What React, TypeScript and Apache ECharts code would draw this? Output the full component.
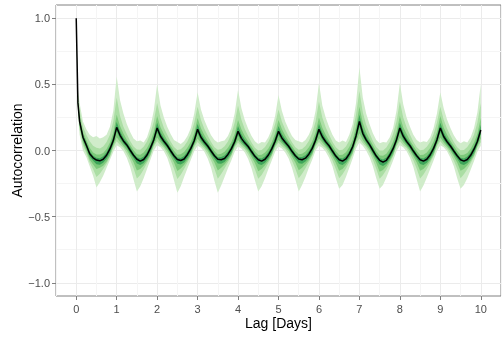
import React, { useEffect, useRef } from "react";
import * as echarts from "echarts";

// x positions: hours within each day row (day 0 has an extra 1-hour point)
const HOURS_DAY0 = [0, 1, 2, 4, 6, 8, 10, 12, 14, 16, 18, 20, 22];
const HOURS_DAYN = [0, 2, 4, 6, 8, 10, 12, 14, 16, 18, 20, 22];

const X_TICKS = [0, 1, 2, 3, 4, 5, 6, 7, 8, 9, 10];
const X_MINOR = [-0.5, 0.5, 1.5, 2.5, 3.5, 4.5, 5.5, 6.5, 7.5, 8.5, 9.5, 10.5];
const Y_TICKS = [-1, -0.5, 0, 0.5, 1];
const Y_MINOR = [-0.75, -0.25, 0.25, 0.75];

// median autocorrelation, one row per day
const MEDIAN = [
  [1.0, 0.36, 0.22, 0.1, 0.04, -0.025, -0.055, -0.072, -0.078, -0.066, -0.036, 0.012, 0.075],
  [0.175, 0.115, 0.072, 0.042, 0.002, -0.036, -0.066, -0.08, -0.068, -0.034, 0.018, 0.08],
  [0.17, 0.108, 0.07, 0.038, -0.002, -0.04, -0.068, -0.076, -0.064, -0.03, 0.016, 0.074],
  [0.16, 0.1, 0.064, 0.034, -0.004, -0.04, -0.066, -0.07, -0.06, -0.03, 0.012, 0.066],
  [0.145, 0.092, 0.058, 0.03, -0.008, -0.044, -0.07, -0.08, -0.066, -0.034, 0.012, 0.07],
  [0.145, 0.095, 0.062, 0.032, -0.006, -0.04, -0.064, -0.07, -0.058, -0.028, 0.016, 0.078],
  [0.16, 0.104, 0.066, 0.036, -0.004, -0.042, -0.07, -0.08, -0.064, -0.026, 0.028, 0.11],
  [0.22, 0.13, 0.08, 0.044, 0.0, -0.042, -0.074, -0.088, -0.074, -0.036, 0.014, 0.08],
  [0.17, 0.108, 0.068, 0.036, -0.004, -0.04, -0.07, -0.08, -0.066, -0.032, 0.016, 0.08],
  [0.17, 0.106, 0.066, 0.034, -0.004, -0.04, -0.07, -0.08, -0.068, -0.036, 0.01, 0.068],
  [0.155],
];

// innermost band
const U4 = [
  [1.0, 0.375, 0.24, 0.12, 0.06, -0.005, -0.04, -0.055, -0.058, -0.044, -0.014, 0.035, 0.105],
  [0.215, 0.145, 0.097, 0.062, 0.022, -0.02, -0.051, -0.06, -0.046, -0.012, 0.04, 0.11],
  [0.21, 0.138, 0.095, 0.058, 0.018, -0.024, -0.053, -0.056, -0.042, -0.008, 0.038, 0.104],
  [0.2, 0.13, 0.089, 0.054, 0.016, -0.024, -0.051, -0.05, -0.038, -0.008, 0.034, 0.096],
  [0.185, 0.122, 0.083, 0.05, 0.012, -0.028, -0.055, -0.06, -0.044, -0.012, 0.034, 0.1],
  [0.185, 0.125, 0.087, 0.052, 0.014, -0.024, -0.049, -0.05, -0.036, -0.006, 0.038, 0.108],
  [0.2, 0.134, 0.091, 0.056, 0.016, -0.026, -0.055, -0.06, -0.042, -0.004, 0.05, 0.145],
  [0.27, 0.165, 0.105, 0.064, 0.02, -0.026, -0.059, -0.068, -0.052, -0.014, 0.036, 0.11],
  [0.21, 0.138, 0.093, 0.056, 0.016, -0.024, -0.055, -0.06, -0.044, -0.01, 0.038, 0.11],
  [0.21, 0.136, 0.091, 0.054, 0.016, -0.024, -0.055, -0.06, -0.046, -0.014, 0.032, 0.098],
  [0.195],
];
const L4 = [
  [1.0, 0.345, 0.2, 0.08, 0.02, -0.048, -0.078, -0.104, -0.108, -0.092, -0.062, -0.018, 0.053],
  [0.145, 0.09, 0.052, 0.022, -0.02, -0.059, -0.098, -0.11, -0.094, -0.06, -0.012, 0.058],
  [0.14, 0.083, 0.05, 0.018, -0.024, -0.063, -0.1, -0.106, -0.09, -0.056, -0.014, 0.052],
  [0.13, 0.075, 0.044, 0.014, -0.026, -0.063, -0.098, -0.1, -0.086, -0.056, -0.018, 0.044],
  [0.115, 0.067, 0.038, 0.01, -0.03, -0.067, -0.102, -0.11, -0.092, -0.06, -0.018, 0.048],
  [0.115, 0.07, 0.042, 0.012, -0.028, -0.063, -0.096, -0.1, -0.084, -0.054, -0.014, 0.056],
  [0.13, 0.079, 0.046, 0.016, -0.026, -0.065, -0.102, -0.11, -0.09, -0.052, -0.002, 0.085],
  [0.18, 0.105, 0.06, 0.024, -0.022, -0.065, -0.106, -0.118, -0.1, -0.062, -0.016, 0.058],
  [0.14, 0.083, 0.048, 0.016, -0.026, -0.063, -0.102, -0.11, -0.092, -0.058, -0.014, 0.058],
  [0.14, 0.081, 0.046, 0.014, -0.026, -0.063, -0.102, -0.11, -0.094, -0.062, -0.02, 0.046],
  [0.125],
];

const U3 = [
  [1.0, 0.39, 0.26, 0.14, 0.08, 0.02, -0.015, -0.03, -0.03, -0.018, 0.012, 0.06, 0.135],
  [0.27, 0.185, 0.128, 0.082, 0.042, 0.002, -0.028, -0.032, -0.016, 0.018, 0.068, 0.14],
  [0.26, 0.176, 0.124, 0.078, 0.038, -0.002, -0.032, -0.028, -0.012, 0.022, 0.066, 0.132],
  [0.245, 0.168, 0.118, 0.074, 0.036, -0.004, -0.03, -0.024, -0.01, 0.02, 0.062, 0.124],
  [0.23, 0.16, 0.11, 0.07, 0.032, -0.008, -0.034, -0.032, -0.016, 0.016, 0.062, 0.128],
  [0.23, 0.162, 0.114, 0.072, 0.034, -0.004, -0.028, -0.024, -0.008, 0.024, 0.068, 0.138],
  [0.25, 0.172, 0.12, 0.076, 0.036, -0.006, -0.034, -0.032, -0.014, 0.026, 0.082, 0.18],
  [0.33, 0.21, 0.138, 0.086, 0.042, -0.006, -0.038, -0.04, -0.024, 0.014, 0.066, 0.14],
  [0.26, 0.176, 0.124, 0.076, 0.036, -0.004, -0.034, -0.032, -0.016, 0.018, 0.068, 0.14],
  [0.26, 0.174, 0.12, 0.074, 0.036, -0.004, -0.034, -0.032, -0.018, 0.014, 0.06, 0.126],
  [0.245],
];
const L3 = [
  [1.0, 0.33, 0.18, 0.06, 0.0, -0.07, -0.105, -0.14, -0.13, -0.115, -0.085, -0.04, 0.035],
  [0.1, 0.066, 0.034, 0.004, -0.042, -0.088, -0.152, -0.14, -0.114, -0.078, -0.032, 0.044],
  [0.098, 0.062, 0.032, 0.0, -0.044, -0.09, -0.155, -0.136, -0.11, -0.074, -0.032, 0.04],
  [0.09, 0.056, 0.028, -0.002, -0.046, -0.09, -0.152, -0.13, -0.106, -0.074, -0.034, 0.034],
  [0.08, 0.05, 0.024, -0.006, -0.05, -0.094, -0.156, -0.14, -0.112, -0.078, -0.034, 0.036],
  [0.08, 0.052, 0.026, -0.004, -0.048, -0.09, -0.15, -0.13, -0.104, -0.072, -0.03, 0.044],
  [0.09, 0.06, 0.03, 0.0, -0.046, -0.092, -0.154, -0.14, -0.11, -0.07, -0.018, 0.07],
  [0.13, 0.08, 0.042, 0.008, -0.04, -0.092, -0.16, -0.148, -0.12, -0.08, -0.034, 0.044],
  [0.098, 0.062, 0.032, 0.0, -0.044, -0.09, -0.154, -0.14, -0.112, -0.076, -0.032, 0.044],
  [0.098, 0.06, 0.03, -0.002, -0.044, -0.09, -0.154, -0.14, -0.114, -0.08, -0.038, 0.034],
  [0.09],
];

const U2 = [
  [1.0, 0.42, 0.3, 0.18, 0.12, 0.07, 0.035, 0.02, 0.015, 0.03, 0.065, 0.12, 0.22],
  [0.4, 0.26, 0.18, 0.124, 0.072, 0.03, 0.008, 0.006, 0.028, 0.068, 0.13, 0.22],
  [0.36, 0.245, 0.172, 0.12, 0.068, 0.026, 0.004, 0.01, 0.032, 0.07, 0.126, 0.21],
  [0.33, 0.23, 0.165, 0.114, 0.064, 0.024, 0.006, 0.012, 0.032, 0.068, 0.124, 0.21],
  [0.34, 0.232, 0.162, 0.11, 0.06, 0.02, 0.0, 0.004, 0.026, 0.066, 0.122, 0.2],
  [0.31, 0.22, 0.158, 0.108, 0.062, 0.024, 0.006, 0.012, 0.034, 0.072, 0.132, 0.22],
  [0.37, 0.25, 0.175, 0.12, 0.066, 0.024, 0.002, 0.006, 0.03, 0.076, 0.15, 0.27],
  [0.45, 0.29, 0.195, 0.13, 0.072, 0.026, 0.0, 0.0, 0.022, 0.064, 0.126, 0.22],
  [0.37, 0.25, 0.176, 0.12, 0.066, 0.024, 0.002, 0.006, 0.028, 0.066, 0.124, 0.21],
  [0.33, 0.232, 0.166, 0.114, 0.064, 0.024, 0.002, 0.004, 0.026, 0.064, 0.12, 0.21],
  [0.36],
];
const L2 = [
  [1.0, 0.31, 0.16, 0.04, -0.02, -0.09, -0.14, -0.2, -0.175, -0.14, -0.1, -0.05, 0.02],
  [0.07, 0.042, 0.02, -0.022, -0.072, -0.135, -0.212, -0.186, -0.144, -0.094, -0.042, 0.03],
  [0.07, 0.04, 0.018, -0.024, -0.074, -0.138, -0.216, -0.184, -0.14, -0.09, -0.042, 0.026],
  [0.064, 0.036, 0.014, -0.026, -0.076, -0.138, -0.214, -0.178, -0.136, -0.09, -0.044, 0.022],
  [0.058, 0.03, 0.01, -0.03, -0.08, -0.142, -0.214, -0.186, -0.142, -0.094, -0.044, 0.024],
  [0.058, 0.032, 0.012, -0.028, -0.078, -0.138, -0.21, -0.176, -0.134, -0.088, -0.04, 0.03],
  [0.064, 0.038, 0.016, -0.024, -0.076, -0.14, -0.21, -0.18, -0.138, -0.086, -0.03, 0.05],
  [0.09, 0.054, 0.026, -0.016, -0.07, -0.138, -0.214, -0.186, -0.146, -0.096, -0.044, 0.03],
  [0.07, 0.04, 0.018, -0.024, -0.074, -0.138, -0.212, -0.182, -0.14, -0.092, -0.042, 0.03],
  [0.07, 0.04, 0.016, -0.026, -0.076, -0.138, -0.21, -0.18, -0.142, -0.096, -0.048, 0.022],
  [0.062],
];

// outermost band
const U1 = [
  [1.0, 0.46, 0.36, 0.22, 0.16, 0.12, 0.1, 0.11, 0.09, 0.1, 0.12, 0.18, 0.3],
  [0.56, 0.38, 0.28, 0.2, 0.14, 0.09, 0.07, 0.075, 0.06, 0.1, 0.18, 0.3],
  [0.5, 0.34, 0.25, 0.18, 0.125, 0.08, 0.065, 0.05, 0.07, 0.11, 0.17, 0.28],
  [0.44, 0.31, 0.23, 0.17, 0.115, 0.08, 0.06, 0.07, 0.075, 0.11, 0.17, 0.28],
  [0.46, 0.32, 0.23, 0.165, 0.11, 0.07, 0.05, 0.065, 0.06, 0.1, 0.16, 0.26],
  [0.42, 0.3, 0.22, 0.16, 0.11, 0.08, 0.07, 0.06, 0.08, 0.12, 0.18, 0.3],
  [0.51, 0.34, 0.25, 0.18, 0.12, 0.075, 0.06, 0.075, 0.065, 0.12, 0.2, 0.36],
  [0.63, 0.4, 0.28, 0.2, 0.13, 0.08, 0.055, 0.065, 0.06, 0.1, 0.17, 0.3],
  [0.51, 0.35, 0.25, 0.18, 0.12, 0.08, 0.06, 0.07, 0.065, 0.1, 0.17, 0.28],
  [0.44, 0.32, 0.235, 0.17, 0.115, 0.075, 0.055, 0.07, 0.06, 0.1, 0.17, 0.29],
  [0.5],
];
const L1 = [
  [1.0, 0.28, 0.12, 0.0, -0.05, -0.12, -0.19, -0.28, -0.24, -0.19, -0.13, -0.07, -0.01],
  [0.04, 0.025, -0.005, -0.055, -0.125, -0.22, -0.31, -0.27, -0.21, -0.14, -0.07, 0.0],
  [0.04, 0.025, -0.005, -0.055, -0.13, -0.225, -0.32, -0.27, -0.2, -0.135, -0.07, -0.005],
  [0.035, 0.02, -0.01, -0.06, -0.13, -0.23, -0.32, -0.265, -0.2, -0.135, -0.075, -0.01],
  [0.03, 0.015, -0.015, -0.065, -0.135, -0.225, -0.31, -0.27, -0.21, -0.14, -0.075, -0.01],
  [0.03, 0.015, -0.015, -0.06, -0.13, -0.22, -0.31, -0.26, -0.2, -0.13, -0.07, 0.0],
  [0.035, 0.02, -0.01, -0.055, -0.12, -0.21, -0.29, -0.26, -0.2, -0.13, -0.06, 0.015],
  [0.06, 0.035, 0.0, -0.05, -0.12, -0.21, -0.29, -0.26, -0.205, -0.14, -0.075, -0.005],
  [0.04, 0.025, -0.005, -0.055, -0.125, -0.22, -0.31, -0.265, -0.205, -0.14, -0.075, -0.005],
  [0.04, 0.025, -0.005, -0.055, -0.12, -0.21, -0.29, -0.26, -0.21, -0.145, -0.08, -0.01],
  [0.035],
];

const BAND_COLORS = ["#d0ecca", "#abdea4", "#7cc97a", "#3ea55a"];
const FONT = "'Liberation Sans', Arial, Helvetica, sans-serif";

const flat = (rows: number[][]) => rows.flat();
const LAGS = MEDIAN.map((row, n) =>
  row.map((_, k) => n + (n === 0 ? HOURS_DAY0[k] : HOURS_DAYN[k]) / 24)
).flat();

const fmtY = (v: number) => v.toFixed(1).replace("-", "\u2212");

export default function App() {
  const ref = useRef<HTMLDivElement>(null);
  useEffect(() => {
    if (!ref.current) return;
    const chart = echarts.init(ref.current, undefined, { renderer: "svg" });
    const bands = [
      { lo: flat(L1), hi: flat(U1), color: BAND_COLORS[0] },
      { lo: flat(L2), hi: flat(U2), color: BAND_COLORS[1] },
      { lo: flat(L3), hi: flat(U3), color: BAND_COLORS[2] },
      { lo: flat(L4), hi: flat(U4), color: BAND_COLORS[3] },
    ];
    const series: any[] = bands.map((b, i) => ({
      type: "custom",
      name: "band" + i,
      xAxisIndex: 0,
      yAxisIndex: 0,
      silent: true,
      clip: true,
      data: [[5, 0]],
      z: 2 + i,
      renderItem: (_params: any, api: any) => {
        const pts: number[][] = [];
        for (let j = 0; j < LAGS.length; j++) pts.push(api.coord([LAGS[j], b.hi[j]]));
        for (let j = LAGS.length - 1; j >= 0; j--) pts.push(api.coord([LAGS[j], b.lo[j]]));
        return {
          type: "polygon",
          shape: { points: pts },
          style: { fill: b.color, stroke: null },
        };
      },
    }));
    const med = flat(MEDIAN);
    series.push({
      type: "line",
      data: LAGS.map((x, j) => [x, med[j]]),
      symbol: "none",
      silent: true,
      lineStyle: { color: "#000000", width: 1.5 },
      xAxisIndex: 0,
      yAxisIndex: 0,
      z: 10,
    });

    const tickStyle = { color: "#808080", width: 1 };
    chart.setOption({
      animation: false,
      grid: {
        left: 56,
        right: 1,
        top: 5,
        bottom: 42,
        outerBoundsMode: "none",
        containLabel: false,
        show: true,
        borderColor: "#808080",
        borderWidth: 1,
        backgroundColor: "#ffffff",
      },
      xAxis: [
        {
          type: "value",
          min: -0.5,
          max: 10.5,
          position: "bottom",
          axisLine: { show: false, onZero: false },
          axisTick: { show: true, customValues: X_TICKS, length: 4, lineStyle: tickStyle },
          axisLabel: {
            customValues: X_TICKS,
            margin: 7,
            fontSize: 11,
            color: "#4d4d4d",
            fontFamily: FONT,
          },
          splitLine: { show: true, lineStyle: { color: "#ebebeb", width: 1 } },
          name: "Lag [Days]",
          nameLocation: "middle",
          nameGap: 20,
          nameMoveOverlap: false,
          nameTextStyle: { fontSize: 14, color: "#000000", fontFamily: FONT },
        },
        {
          type: "value",
          min: -0.5,
          max: 10.5,
          position: "bottom",
          axisLine: { show: false, onZero: false },
          axisTick: { show: false, customValues: X_MINOR },
          axisLabel: { show: false, customValues: X_MINOR },
          splitLine: { show: true, lineStyle: { color: "#f5f5f5", width: 1 } },
        },
      ],
      yAxis: [
        {
          type: "value",
          min: -1.1,
          max: 1.1,
          position: "left",
          axisLine: { show: false, onZero: false },
          axisTick: { show: true, customValues: Y_TICKS, length: 4, lineStyle: tickStyle },
          axisLabel: {
            customValues: Y_TICKS,
            margin: 6,
            fontSize: 11,
            color: "#4d4d4d",
            fontFamily: FONT,
            formatter: (v: number) => fmtY(v),
          },
          splitLine: { show: true, lineStyle: { color: "#ebebeb", width: 1 } },
          name: "Autocorrelation",
          nameLocation: "middle",
          nameGap: 32,
          nameMoveOverlap: false,
          nameTextStyle: { fontSize: 14, color: "#000000", fontFamily: FONT },
        },
        {
          type: "value",
          min: -1.1,
          max: 1.1,
          position: "left",
          axisLine: { show: false, onZero: false },
          axisTick: { show: false, customValues: Y_MINOR },
          axisLabel: { show: false, customValues: Y_MINOR },
          splitLine: { show: true, lineStyle: { color: "#f5f5f5", width: 1 } },
        },
      ],
      series,
    });
    return () => chart.dispose();
  }, []);
  return (
    <div
      ref={ref}
      style={{ position: "fixed", left: 0, top: 0, width: 502, height: 338 }}
    />
  );
}
